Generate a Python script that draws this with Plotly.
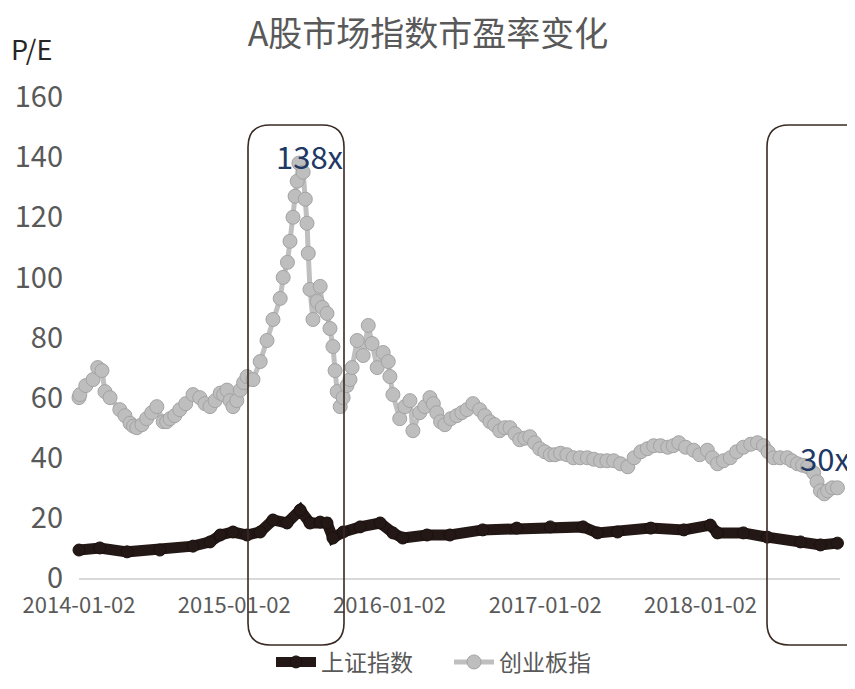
import plotly.graph_objects as go

# ---------------- data ----------------
cyb_dates = [
    "2014-01-02", "2014-01-04", "2014-01-18", "2014-02-04", "2014-02-15", "2014-02-25",
    "2014-03-04", "2014-03-16", "2014-04-08", "2014-04-20", "2014-05-02", "2014-05-10",
    "2014-05-18", "2014-05-30", "2014-06-10", "2014-06-22", "2014-07-04", "2014-07-19",
    "2014-07-27", "2014-08-04", "2014-08-15", "2014-08-27", "2014-09-10", "2014-09-27",
    "2014-10-13", "2014-10-25", "2014-11-06", "2014-11-18", "2014-11-30", "2014-12-08",
    "2014-12-16", "2014-12-23", "2014-12-30", "2015-01-08", "2015-01-16", "2015-01-24",
    "2015-02-01", "2015-02-15", "2015-03-04", "2015-03-20", "2015-04-03", "2015-04-20",
    "2015-04-27", "2015-05-07", "2015-05-13", "2015-05-20", "2015-05-25", "2015-05-30",
    "2015-06-03", "2015-06-13", "2015-06-18", "2015-06-22", "2015-06-25", "2015-06-29",
    "2015-07-06", "2015-07-16", "2015-07-23", "2015-07-28", "2015-08-08", "2015-08-15",
    "2015-08-22", "2015-08-27", "2015-09-01", "2015-09-08", "2015-09-15", "2015-09-24",
    "2015-10-01", "2015-10-06", "2015-10-18", "2015-11-01", "2015-11-13", "2015-11-22",
    "2015-12-04", "2015-12-18", "2015-12-30", "2016-01-03", "2016-01-10", "2016-01-26",
    "2016-02-07", "2016-02-19", "2016-02-26", "2016-03-13", "2016-03-25", "2016-04-06",
    "2016-04-14", "2016-04-22", "2016-05-01", "2016-05-11", "2016-05-25", "2016-06-08",
    "2016-06-20", "2016-07-02", "2016-07-16", "2016-08-01", "2016-08-13", "2016-08-25",
    "2016-09-05", "2016-09-17", "2016-09-29", "2016-10-11", "2016-10-23", "2016-11-03",
    "2016-11-15", "2016-11-27", "2016-12-08", "2016-12-20", "2017-01-01", "2017-01-14",
    "2017-01-25", "2017-02-07", "2017-02-22", "2017-03-09", "2017-03-25", "2017-04-11",
    "2017-04-26", "2017-05-12", "2017-05-27", "2017-06-12", "2017-06-28", "2017-07-15",
    "2017-07-30", "2017-08-15", "2017-08-30", "2017-09-14", "2017-09-30", "2017-10-17",
    "2017-10-30", "2017-11-12", "2017-11-28", "2017-12-17", "2017-12-31", "2018-01-18",
    "2018-01-30", "2018-02-11", "2018-02-25", "2018-03-13", "2018-03-28", "2018-04-13",
    "2018-04-30", "2018-05-16", "2018-05-30", "2018-06-10", "2018-06-23", "2018-07-08",
    "2018-07-25", "2018-08-05", "2018-08-18", "2018-08-30", "2018-09-11", "2018-09-25",
    "2018-10-03", "2018-10-11", "2018-10-20", "2018-10-28", "2018-11-08", "2018-11-20",
]
cyb_pe = [
    60, 61, 64, 66, 70, 69,
    62, 60, 56, 54, 51.5, 50.5,
    50, 51, 53, 55, 57, 52,
    52, 53, 54, 56, 58, 61,
    60, 58, 57, 59, 61.5, 61,
    62.5, 59, 57, 59, 62.5, 65,
    67, 66, 72, 79, 86, 93,
    100, 105, 112, 120, 127, 132,
    138, 135, 126, 118, 108, 96,
    86, 92, 97, 90, 88, 83,
    77, 69, 62, 57, 60, 64,
    66, 70, 79, 74, 84, 78,
    70, 75, 72, 67, 61, 53,
    57, 59, 49, 55, 57, 60,
    58, 55, 52, 51, 53, 54,
    55, 56, 58, 56, 54, 52,
    51, 49, 50, 50, 48, 46,
    46.5, 47, 45, 43, 42, 41,
    41, 41.5, 41, 40, 40, 40,
    39.5, 39, 39, 39, 38, 37,
    40, 42, 43, 44, 44, 43.5,
    44, 45, 43.5, 42.5, 41, 42.5,
    40, 38, 39, 40, 42, 43.5,
    44.5, 45, 44, 42, 40, 40,
    40, 39, 38, 37.5, 37, 35,
    32, 29, 28, 29, 30, 30,
]

sz_dates = [
    "2014-01-02", "2014-02-20", "2014-04-25", "2014-07-11", "2014-09-27", "2014-11-06",
    "2014-11-30", "2014-12-30", "2015-02-01", "2015-03-04", "2015-04-03", "2015-05-06",
    "2015-06-06", "2015-06-29", "2015-07-23", "2015-08-08", "2015-08-22", "2015-09-15",
    "2015-10-25", "2015-12-11", "2016-01-10", "2016-02-02", "2016-03-30", "2016-05-23",
    "2016-08-08", "2016-10-27", "2017-01-14", "2017-04-01", "2017-05-05", "2017-06-21",
    "2017-09-07", "2017-11-24", "2018-01-25", "2018-02-11", "2018-04-13", "2018-06-08",
    "2018-08-25", "2018-10-11", "2018-11-20",
]
sz_pe = [
    9.3, 10, 8.7, 9.3, 10.6, 12,
    14.3, 15.3, 14.3, 15.3, 19.3, 18.3,
    22.6, 18.3, 18.6, 18.3, 13.3, 15.3,
    17, 18.3, 15, 13.3, 14.3, 14.3,
    16, 16.6, 17, 17, 15, 15.3,
    16.6, 16, 17.6, 15, 15, 13.6,
    12, 11, 11.6,
]

x_tick_labels = ["2014-01-02", "2015-01-02", "2016-01-02", "2017-01-02", "2018-01-02"]
y_tick_values = [0, 20, 40, 60, 80, 100, 120, 140, 160]

# ---------------- layout geometry ----------------
# The page body adds an 8px margin; positions below are screen pixels.
OFF = 8
W, H = 855 - OFF, 689 - 2 * OFF
PLOT_X0, PLOT_X1 = 79, 840      # screen x of plot area
PLOT_Y0, PLOT_Y1 = 97, 578      # screen y of 160 and 0
L = PLOT_X0 - OFF
R = W - (PLOT_X1 - OFF)
T = PLOT_Y0 - OFF
B = H - (PLOT_Y1 - OFF)
PW, PH = W - L - R, H - T - B
FONT = "Noto Sans CJK SC, Noto Sans, sans-serif"


def px(x):
    return (x - PLOT_X0) / PW


def py(y):
    return (PLOT_Y1 - y) / PH


def rounded_rect(x0, y0, x1, y1, r):
    pts = [
        ("M", [(x0 + r, y0)]),
        ("L", [(x1 - r, y0)]),
        ("Q", [(x1, y0), (x1, y0 + r)]),
        ("L", [(x1, y1 - r)]),
        ("Q", [(x1, y1), (x1 - r, y1)]),
        ("L", [(x0 + r, y1)]),
        ("Q", [(x0, y1), (x0, y1 - r)]),
        ("L", [(x0, y0 + r)]),
        ("Q", [(x0, y0), (x0 + r, y0)]),
    ]
    s = ""
    for cmd, ps in pts:
        s += cmd + " " + " ".join(f"{px(a):.5f},{py(b):.5f}" for a, b in ps) + " "
    return s + "Z"


fig = go.Figure()

fig.add_trace(go.Scatter(
    x=sz_dates, y=sz_pe, name="上证指数", mode="lines+markers",
    line=dict(color="#231815", width=11),
    marker=dict(color="#231815", size=12, line=dict(color="#1a100d", width=1)),
    cliponaxis=False,
))
fig.add_trace(go.Scatter(
    x=cyb_dates, y=cyb_pe, name="创业板指", mode="lines+markers",
    line=dict(color="#BFBFBF", width=5),
    marker=dict(color="#BEBEBE", size=14, line=dict(color="#A3A3A3", width=1)),
    cliponaxis=False,
))

shapes = [
    dict(type="path", xref="paper", yref="paper",
         path=rounded_rect(248, 125, 344, 645, 22),
         line=dict(color="#3A2A24", width=1.6), fillcolor="rgba(0,0,0,0)", layer="above"),
    dict(type="path", xref="paper", yref="paper",
         path=rounded_rect(767, 125, 880, 645, 22),
         line=dict(color="#3A2A24", width=1.6), fillcolor="rgba(0,0,0,0)", layer="above"),
]

annotations = [
    dict(x="2015-06-29", y=140.7, xref="x", yref="y", text="138x", showarrow=False,
         font=dict(family=FONT, size=31, color="#1F3864")),
    dict(x="2018-10-21", y=40.2, xref="x", yref="y", text="30x", showarrow=False,
         font=dict(family=FONT, size=31, color="#1F3864")),
    dict(x=px(9), y=py(48), xref="paper", yref="paper", text="P/E", showarrow=False,
         xanchor="left", yanchor="middle",
         font=dict(family=FONT, size=27, color="#262626")),
]

fig.update_layout(
    width=W, height=H,
    margin=dict(l=L, r=R, t=T, b=B, autoexpand=False),
    paper_bgcolor="white", plot_bgcolor="white",
    title=dict(text="A股市场指数市盈率变化", x=(428 - OFF) / W, xref="container", xanchor="center",
               y=1 - (34 - OFF) / H, yanchor="middle",
               font=dict(family=FONT, size=34, color="#595959")),
    font=dict(family=FONT, color="#595959"),
    shapes=shapes,
    annotations=annotations,
    showlegend=True,
    legend=dict(orientation="h", xref="container", yref="container",
                x=(271 - OFF) / W, xanchor="left", y=1 - (662 - OFF) / H, yanchor="middle",
                font=dict(family=FONT, size=23, color="#595959"),
                itemwidth=40, entrywidth=123, bgcolor="rgba(0,0,0,0)"),
)

fig.update_xaxes(
    type="date", range=["2014-01-02", "2018-11-26"],
    tickmode="array", tickvals=x_tick_labels, ticktext=x_tick_labels,
    showgrid=False, zeroline=False,
    showline=True, linecolor="#D9D9D9", linewidth=1.5,
    ticks="", tickfont=dict(family=FONT, size=22, color="#595959"),
    ticklabelstandoff=7, automargin=False,
)
fig.update_yaxes(
    range=[0, 160], tickmode="array", tickvals=y_tick_values,
    showgrid=False, zeroline=False, showline=False, ticks="",
    tickfont=dict(family=FONT, size=29, color="#595959"),
    ticklabelstandoff=15, automargin=False,
)

fig.write_html("out.html")
